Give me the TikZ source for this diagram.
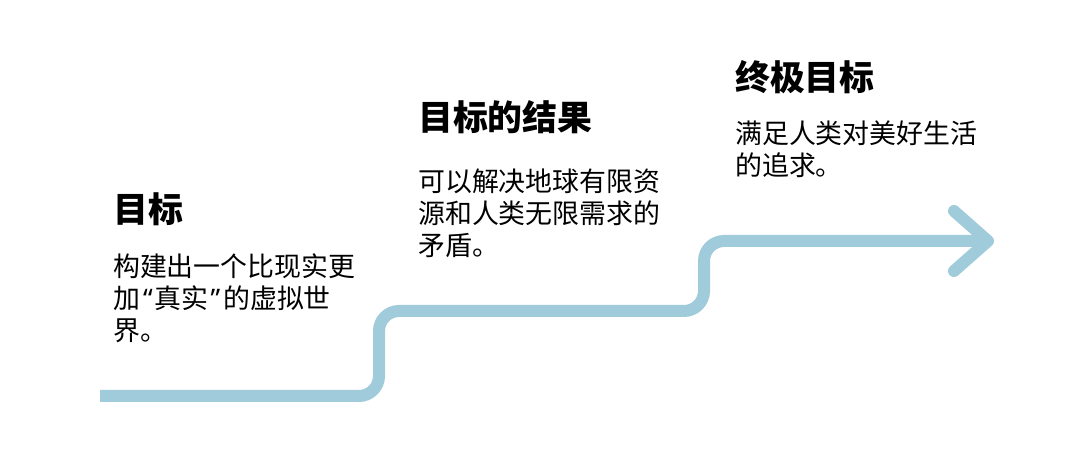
\documentclass[tikz,border=0pt]{standalone}
\usepackage{fontspec}
\setmainfont{Noto Sans CJK SC}
\newfontfamily\quotefont{Noto Sans}
\usetikzlibrary{arrows.meta}
\definecolor{stepblue}{RGB}{159,203,219}
\newcommand{\openq}{\hspace{3bp}{\quotefont “}\hspace{2bp}}
\newcommand{\closeq}{\hspace{2bp}{\quotefont ”}\hspace{3bp}}

\begin{document}
\begin{tikzpicture}[x=1bp, y=-1bp,
    title/.style={anchor=base west, inner sep=0pt, font=\fontsize{35}{35}\selectfont\bfseries},
    body/.style={anchor=base west, inner sep=0pt, align=left, font=\fontsize{27}{32.5}\selectfont},
    stepline/.style={stepblue, line width=12bp, rounded corners=20bp,
      -{Straight Barb[round, length=34bp, width=60bp]}}]
  \useasboundingbox (0,0) rectangle (1080,461);

  %% Staircase line with open arrow head
  \coordinate (start) at (100,396);
  \coordinate (rise1) at (379,396);
  \coordinate (land1) at (379,311);
  \coordinate (rise2) at (704,311);
  \coordinate (land2) at (704,241);
  \coordinate (tip)   at (994,241);
  \draw[stepline] (start) -- (rise1) -- (land1) -- (rise2) -- (land2) -- (tip);

  %% Step 1 (body anchored on its last line)
  \node[title] (goal) at (113,223) {目标};
  \node[body]  (goaltext) at (113,341) {构建出一个比现实更\\加\openq 真实\closeq 的虚拟世\\界。};

  %% Step 2
  \node[title] (result) at (418,131) {目标的结果};
  \node[body]  (resulttext) at (418,256) {可以解决地球有限资\\源和人类无限需求的\\矛盾。};

  %% Step 3
  \node[title] (final) at (735,91) {终极目标};
  \node[body]  (finaltext) at (735,176) {满足人类对美好生活\\的追求。};
\end{tikzpicture}
\end{document}
